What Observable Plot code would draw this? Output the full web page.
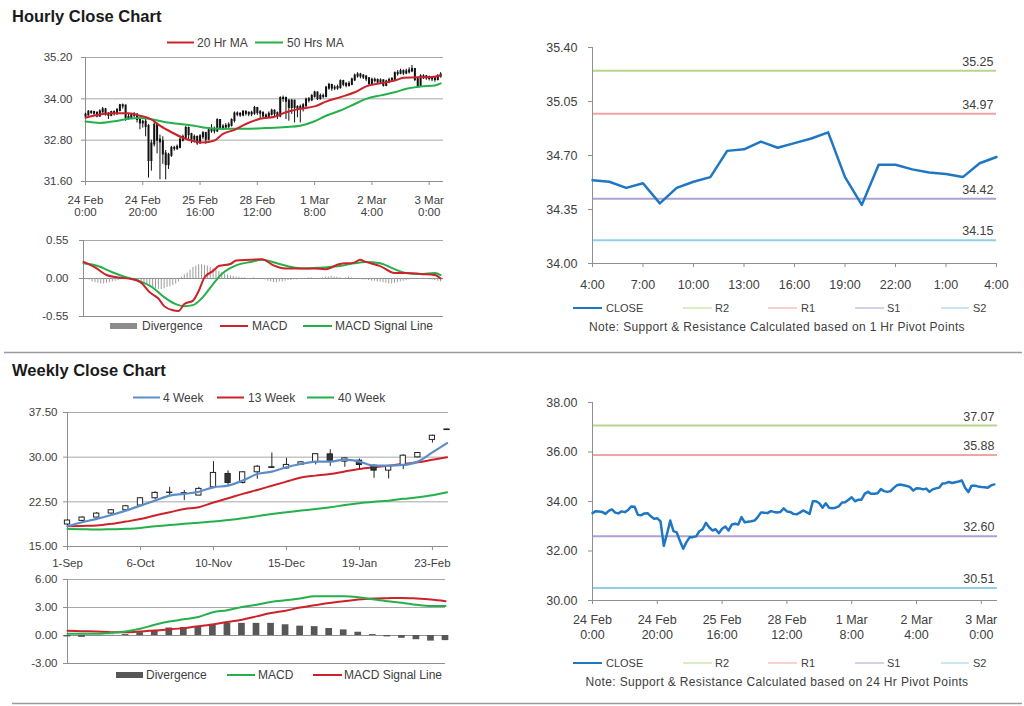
<!DOCTYPE html>
<html><head><meta charset="utf-8">
<script src="https://cdn.jsdelivr.net/npm/d3@7"></script>
<script src="https://cdn.jsdelivr.net/npm/@observablehq/plot@0.6"></script>
<style>
body{margin:0;background:#fff;}
#page{position:relative;width:1024px;height:706px;overflow:hidden;font-family:"Liberation Sans",Arial,sans-serif;}
#page svg{position:absolute;}
</style></head>
<body><div id="page"></div>
<script>
// ================= DATA =================
// hourly candle chart (24 Feb 0:00 .. 3 Mar 4:00), one entry per trading hour
const hourTickIdx = [0, 20, 40, 60, 80, 100, 120];
const hourTickDay = ["24 Feb", "24 Feb", "25 Feb", "28 Feb", "1 Mar", "2 Mar", "3 Mar"];
const hourTickTime = ["0:00", "20:00", "16:00", "12:00", "8:00", "4:00", "0:00"];
const firstOpen = 33.50;
const hourlyClose = [
 33.53,33.61,33.60,33.58,33.50,33.62,33.68,33.55,33.52,33.60,
 33.57,33.66,33.80,33.79,33.46,33.44,33.52,33.53,33.40,33.30,
 33.32,33.20,32.21,32.69,33.23,32.80,32.75,32.40,32.09,32.36,
 32.56,32.56,32.59,32.80,32.88,33.14,32.96,32.83,32.88,32.72,
 32.90,32.99,32.83,33.07,33.10,33.07,33.37,33.16,33.18,33.20,
 33.23,33.37,33.56,33.55,33.53,33.61,33.58,33.56,33.58,33.72,
 33.60,33.58,33.50,33.48,33.55,33.64,33.57,33.50,34.01,34.01,
 33.93,33.75,33.93,33.75,33.73,33.75,33.80,33.96,33.97,34.07,
 34.17,34.01,34.07,34.07,34.31,34.39,34.31,34.31,34.33,34.50,
 34.42,34.39,34.42,34.55,34.66,34.69,34.66,34.63,34.58,34.44,
 34.54,34.53,34.49,34.52,34.39,34.49,34.53,34.56,34.73,34.74,
 34.79,34.75,34.78,34.81,34.85,34.56,34.38,34.64,34.64,34.61,
 34.59,34.58,34.56,34.65,34.69];
const hourlyHigh = [
 33.58,33.66,33.65,33.64,33.62,33.68,33.75,33.72,33.60,33.64,
 33.65,33.72,33.84,33.85,33.82,33.55,33.58,33.60,33.56,33.45,
 33.38,33.40,33.25,32.80,33.40,33.30,32.95,32.90,32.50,32.42,
 32.62,32.62,32.66,32.85,32.95,33.20,33.18,33.00,32.95,32.92,
 32.96,33.05,33.03,33.12,33.25,33.18,33.42,33.40,33.25,33.28,
 33.30,33.42,33.62,33.62,33.60,33.66,33.65,33.62,33.64,33.78,
 33.75,33.66,33.62,33.56,33.62,33.70,33.68,33.62,34.06,34.08,
 34.05,33.98,33.98,33.96,33.80,33.82,33.86,34.02,34.04,34.12,
 34.22,34.20,34.14,34.14,34.36,34.45,34.42,34.38,34.40,34.55,
 34.54,34.47,34.50,34.60,34.72,34.76,34.74,34.70,34.68,34.62,
 34.60,34.60,34.58,34.58,34.56,34.54,34.60,34.62,34.78,34.82,
 34.86,34.84,34.86,34.90,34.97,34.88,34.60,34.70,34.70,34.68,
 34.66,34.64,34.62,34.70,34.76];
const hourlyLow = [
 33.45,33.50,33.55,33.52,33.45,33.46,33.58,33.50,33.40,33.48,
 33.50,33.52,33.62,33.70,33.35,33.38,33.40,33.45,33.30,33.10,
 33.15,32.90,31.70,31.90,32.60,32.40,31.65,32.10,31.65,31.95,
 32.30,32.48,32.50,32.55,32.75,32.85,32.78,32.70,32.72,32.65,
 32.68,32.82,32.68,32.78,33.00,32.98,33.02,33.10,33.08,33.10,
 33.12,33.18,33.30,33.48,33.46,33.48,33.50,33.48,33.48,33.52,
 33.52,33.42,33.42,33.40,33.44,33.50,33.46,33.40,33.45,33.90,
 33.40,33.35,33.55,33.30,33.45,33.30,33.62,33.75,33.88,33.92,
 34.02,33.95,33.96,34.00,34.03,34.25,34.22,34.24,34.25,34.28,
 34.35,34.32,34.34,34.38,34.50,34.60,34.58,34.56,34.50,34.38,
 34.40,34.46,34.42,34.44,34.34,34.35,34.44,34.48,34.52,34.66,
 34.70,34.68,34.70,34.72,34.76,34.50,34.30,34.34,34.56,34.54,
 34.52,34.50,34.48,34.52,34.60];
const ma20Hour  = [0,4,9,15,19,23,26,30,34,38,41,45,48,52,56,61,66,70,75,80,84,89,94,98,103,108,111,116,120,124];
const ma20Value = [33.45,33.53,33.58,33.58,33.51,33.40,33.22,33.03,32.87,32.77,32.73,32.79,32.98,33.10,33.27,33.42,33.48,33.61,33.71,33.78,33.92,34.05,34.19,34.36,34.45,34.53,34.61,34.63,34.63,34.68];
const ma50Hour  = [0,5,10,15,19,24,28,33,38,42,47,52,56,63,70,75,80,84,89,94,98,103,108,112,117,122,124];
const ma50Value = [33.34,33.30,33.35,33.42,33.44,33.39,33.32,33.27,33.22,33.16,33.13,33.13,33.13,33.15,33.18,33.22,33.35,33.51,33.66,33.85,34.00,34.10,34.19,34.29,34.36,34.39,34.45];
// hourly MACD
const macdHour  = [0,4,8,12,17,20,23,26,28,31,33,35,38,40,42,45,47,51,53,58,62,66,70,75,80,84,89,94,96,98,103,108,112,117,122,124];
const macdValue = [0.24,0.16,0.05,0.015,-0.01,-0.06,-0.20,-0.29,-0.40,-0.46,-0.47,-0.37,-0.32,-0.18,0.015,0.11,0.18,0.21,0.26,0.27,0.28,0.19,0.145,0.145,0.145,0.135,0.21,0.23,0.27,0.24,0.18,0.08,0.08,0.065,0.05,0.00];
const signalHour  = [0,5,10,15,19,24,28,32,35,38,41,45,48,53,58,62,68,73,77,83,89,94,98,103,108,112,117,122,124];
const signalValue = [0.22,0.18,0.09,0.015,-0.03,-0.13,-0.27,-0.37,-0.40,-0.385,-0.29,-0.08,0.065,0.19,0.24,0.27,0.21,0.16,0.145,0.16,0.18,0.22,0.24,0.22,0.135,0.08,0.065,0.08,0.05];
const hourlyDivergence = [
 0.00,-0.01,-0.02,-0.05,-0.06,-0.07,-0.08,-0.08,-0.07,-0.06,
 -0.05,-0.04,-0.03,-0.02,-0.02,-0.01,-0.01,-0.02,-0.03,-0.04,
 -0.05,-0.07,-0.10,-0.12,-0.14,-0.15,-0.16,-0.16,-0.15,-0.13,
 -0.12,-0.10,-0.08,-0.05,0.02,0.05,0.08,0.12,0.16,0.18,
 0.20,0.20,0.19,0.18,0.16,0.14,0.12,0.10,0.08,0.06,
 0.05,0.04,0.03,0.02,0.02,0.01,0.01,0.00,0.00,0.01,
 0.00,-0.01,-0.01,-0.02,-0.04,-0.05,-0.06,-0.06,-0.05,-0.05,
 -0.04,-0.03,-0.03,-0.02,-0.02,-0.01,-0.01,0.00,0.01,0.01,
 0.00,-0.01,0.00,0.01,0.02,0.02,0.03,0.02,0.02,0.01,
 0.00,0.01,0.02,0.01,0.00,-0.01,-0.01,-0.02,-0.02,-0.03,
 -0.04,-0.04,-0.05,-0.05,-0.06,-0.07,-0.08,-0.08,-0.07,-0.06,
 -0.05,-0.04,-0.03,-0.02,-0.01,-0.01,0.00,-0.01,-0.01,-0.01,
 -0.02,-0.02,-0.03,-0.04,-0.05];
// pivot charts
const pivotNames = ["R2", "R1", "S1", "S2"];
const pivot1Hr  = [35.25, 34.97, 34.42, 34.15];
const pivot24Hr = [37.07, 35.88, 32.60, 30.51];
const last24Ticks  = [0, 3, 6, 9, 12, 15, 18, 21, 24];
const last24Labels = ["4:00", "7:00", "10:00", "13:00", "16:00", "19:00", "22:00", "1:00", "4:00"];
// weekly chart
const weekTickIdx = [0, 5, 10, 15, 20, 25];
const weekTickLabels = ["1-Sep", "6-Oct", "10-Nov", "15-Dec", "19-Jan", "23-Feb"];
const weekOpen  = [18.69,19.30,19.86,20.53,21.09,21.87,23.10,24.05,23.95,23.55,24.94,27.18,25.67,27.46,28.30,28.10,28.70,29.13,30.47,29.25,29.41,28.57,27.74,28.57,29.97,32.90,34.65];
const weekClose = [19.36,19.86,20.53,21.09,21.76,23.10,24.00,24.00,23.90,24.67,27.35,25.67,27.46,28.40,28.20,28.70,29.13,30.50,29.25,29.80,28.69,27.74,28.46,30.25,30.70,33.60,34.55];
const weekHigh  = [19.50,20.00,20.70,21.20,21.90,23.20,24.20,24.94,24.40,24.95,29.25,27.70,27.60,28.60,30.70,29.80,29.30,30.60,31.25,29.90,29.70,28.70,28.60,30.40,30.80,33.70,34.70];
const weekLow   = [18.50,19.20,19.80,20.40,21.00,21.80,22.90,23.55,22.70,23.50,24.80,25.10,25.50,26.30,28.10,28.00,28.60,28.70,28.46,28.30,28.00,26.45,26.34,27.90,29.90,32.37,34.50];
const ma4Week  = [18.40,19.08,19.64,20.30,21.03,21.87,22.70,23.55,23.83,24.20,24.94,25.22,26.06,27.18,27.57,28.30,28.85,29.25,29.25,29.58,29.25,28.57,28.57,28.69,29.25,30.80,32.37];
const ma13Week = [18.40,18.45,18.52,18.80,19.19,19.60,20.20,20.75,21.30,21.60,22.40,23.10,23.83,24.50,25.20,25.90,26.60,26.90,27.18,27.60,28.00,28.30,28.57,28.85,29.13,29.55,29.97];
const ma40Week = [17.96,17.90,17.85,17.90,17.96,18.10,18.40,18.60,18.80,19.00,19.19,19.45,19.75,20.10,20.47,20.75,21.03,21.30,21.60,21.95,22.26,22.50,22.70,23.00,23.27,23.60,24.10];
const weekMacd   = [0.18,0.18,0.18,0.30,0.43,0.72,1.15,1.50,1.73,1.98,2.50,2.70,3.06,3.30,3.60,3.78,3.96,4.20,4.20,4.20,4.10,3.88,3.67,3.52,3.30,3.17,3.17];
const weekSignal = [0.50,0.46,0.43,0.36,0.36,0.43,0.54,0.65,0.79,1.00,1.19,1.44,1.69,2.05,2.41,2.66,2.99,3.24,3.49,3.67,3.85,3.96,4.00,4.03,3.96,3.85,3.67];
const weekDivergence = [-0.15,-0.20,0.00,0.02,0.10,0.30,0.55,0.80,0.85,0.95,1.20,1.30,1.30,1.30,1.30,1.15,1.00,0.95,0.75,0.60,0.35,0.10,-0.15,-0.30,-0.45,-0.60,-0.55];

// ================= STYLE =================
const FONT = '"Liberation Sans", Arial, sans-serif';
const TXT = "#404040", GRID = "#a8a8a8", AXIS = "#8f8f8f";
const RED = "#cc2229", GREEN = "#25b04b", BLUE = "#1f77c4", LBLUE = "#5b8ec9";
const levelColors = ["#b5d78c", "#f2a3a3", "#b0a0d4", "#8fd0e8"];
const f2 = d => d.toFixed(2);
const page = document.getElementById("page");
function place(svg, left, top) { svg.style.left = left + "px"; svg.style.top = top + "px"; page.appendChild(svg); }
const st = fs => ({fontFamily: FONT, fontSize: fs + "px", color: TXT, background: "transparent", overflow: "visible"});
const lookup = (keys, vals) => { const m = new Map(keys.map((k, i) => [k, vals[i]])); return d => m.get(d); };

// ================= CHART A: hourly candles =================
const hourIdx = d3.range(hourlyClose.length);
const candles = hourIdx.map(i => ({i, o: i ? hourlyClose[i - 1] : firstOpen, c: hourlyClose[i], h: hourlyHigh[i], l: hourlyLow[i]}));
place(Plot.plot({
  width: 460, height: 185, marginLeft: 85, marginRight: 17, marginTop: 17, marginBottom: 44,
  style: st(11.5),
  x: {domain: [0, 125], label: null}, y: {domain: [31.6, 35.2], label: null},
  marks: [
    Plot.ruleY([32.8, 34.0, 35.2], {stroke: GRID}),
    Plot.ruleY([31.6], {stroke: AXIS}),
    Plot.ruleX([0], {stroke: AXIS}),
    Plot.axisY({ticks: [31.6, 32.8, 34.0, 35.2], tickFormat: f2, tickSize: 4, tickPadding: 9, stroke: AXIS, fill: TXT}),
    Plot.axisX({ticks: hourTickIdx, tickFormat: lookup(hourTickIdx, hourTickDay), tickSize: 4, tickPadding: 10, stroke: AXIS, fill: TXT}),
    Plot.axisX({ticks: hourTickIdx, tickFormat: lookup(hourTickIdx, hourTickTime), tickSize: 0, tickPadding: 26, fill: TXT}),
    Plot.ruleX(candles, {x: "i", y1: "l", y2: "h", stroke: "#111", strokeWidth: 1}),
    Plot.ruleX(candles, {x: "i", y1: "o", y2: "c", stroke: "#111", strokeWidth: 2, strokeLinecap: "square"}),
    Plot.line(ma50Hour, {x: ma50Hour, y: ma50Value, stroke: GREEN, strokeWidth: 2, curve: "monotone-x"}),
    Plot.line(ma20Hour, {x: ma20Hour, y: ma20Value, stroke: RED, strokeWidth: 2, curve: "monotone-x"})
  ]
}), 0, 40);

// ================= CHART B: hourly MACD =================
place(Plot.plot({
  width: 460, height: 95, marginLeft: 83, marginRight: 17, marginTop: 10, marginBottom: 9,
  style: st(11.5),
  x: {domain: [0, 125], label: null, axis: null}, y: {domain: [-0.55, 0.55], label: null},
  marks: [
    Plot.ruleY([0.55], {stroke: GRID}),
    Plot.ruleY([-0.55, 0], {stroke: AXIS}),
    Plot.ruleX([0], {stroke: AXIS}),
    Plot.axisY({ticks: [-0.55, 0, 0.55], tickFormat: f2, tickSize: 4, tickPadding: 11, stroke: AXIS, fill: TXT}),
    Plot.ruleX(hourIdx, {x: hourIdx, y1: 0, y2: hourlyDivergence, stroke: "#9c9c9c", strokeWidth: 1}),
    Plot.line(signalHour, {x: signalHour, y: signalValue, stroke: GREEN, strokeWidth: 2, curve: "monotone-x"}),
    Plot.line(macdHour, {x: macdHour, y: macdValue, stroke: RED, strokeWidth: 2, curve: "monotone-x"})
  ]
}), 0, 230);

// ================= CHART C: last 24 hours with 1 Hr pivots =================
const last24 = hourlyClose.slice(-25);
const last24Idx = d3.range(last24.length);
place(Plot.plot({
  width: 504, height: 270, marginLeft: 72, marginRight: 28, marginTop: 17, marginBottom: 37,
  style: st(12.5),
  x: {domain: [0, 24], label: null}, y: {domain: [34.0, 35.4], label: null},
  marks: [
    ...pivotNames.map((n, k) => Plot.ruleY([pivot1Hr[k]], {stroke: levelColors[k], strokeWidth: 2})),
    Plot.text(pivot1Hr, {y: d => d, frameAnchor: "right", text: f2, textAnchor: "end", dx: -3, dy: -9, fill: TXT}),
    Plot.ruleY([34.0], {stroke: AXIS}),
    Plot.ruleX([0], {stroke: AXIS}),
    Plot.axisY({ticks: [34.0, 34.35, 34.7, 35.05, 35.4], tickFormat: f2, tickSize: 4, tickPadding: 11, stroke: AXIS, fill: TXT}),
    Plot.axisX({ticks: last24Ticks, tickFormat: lookup(last24Ticks, last24Labels), tickSize: 4, tickPadding: 13, stroke: AXIS, fill: TXT}),
    Plot.line(last24, {x: last24Idx, y: last24, stroke: BLUE, strokeWidth: 2.5})
  ]
}), 520, 30);

// ================= CHART D: hourly closes with 24 Hr pivots =================
place(Plot.plot({
  width: 504, height: 260, marginLeft: 72, marginRight: 27, marginTop: 17, marginBottom: 45,
  style: st(12.5),
  x: {domain: [0, 125], label: null}, y: {domain: [30, 38], label: null},
  marks: [
    ...pivotNames.map((n, k) => Plot.ruleY([pivot24Hr[k]], {stroke: levelColors[k], strokeWidth: 2})),
    Plot.text(pivot24Hr, {y: d => d, frameAnchor: "right", text: f2, textAnchor: "end", dx: -3, dy: -9, fill: TXT}),
    Plot.ruleY([30], {stroke: AXIS}),
    Plot.ruleX([0], {stroke: AXIS}),
    Plot.axisY({ticks: [30, 32, 34, 36, 38], tickFormat: f2, tickSize: 4, tickPadding: 11, stroke: AXIS, fill: TXT}),
    Plot.axisX({ticks: hourTickIdx, tickFormat: lookup(hourTickIdx, hourTickDay), tickSize: 4, tickPadding: 11, stroke: AXIS, fill: TXT}),
    Plot.axisX({ticks: hourTickIdx, tickFormat: lookup(hourTickIdx, hourTickTime), tickSize: 0, tickPadding: 30, fill: TXT}),
    Plot.line(hourlyClose, {x: hourIdx, y: hourlyClose, stroke: BLUE, strokeWidth: 2.5})
  ]
}), 520, 385);

// ================= CHART E: weekly candles =================
const weekIdx = d3.range(weekClose.length);
const wc = weekIdx.map(k => ({k, o: weekOpen[k], c: weekClose[k], h: weekHigh[k], l: weekLow[k]}));
place(Plot.plot({
  width: 460, height: 175, marginLeft: 67, marginRight: 12, marginTop: 12, marginBottom: 29,
  style: st(11.5),
  x: {domain: [0, 26.1], label: null}, y: {domain: [15, 37.5], label: null},
  marks: [
    Plot.ruleY([22.5, 30, 37.5], {stroke: GRID}),
    Plot.ruleY([15], {stroke: AXIS}),
    Plot.ruleX([0], {stroke: AXIS}),
    Plot.axisY({ticks: [15, 22.5, 30, 37.5], tickFormat: f2, tickSize: 4, tickPadding: 6, stroke: AXIS, fill: TXT}),
    Plot.axisX({ticks: weekTickIdx, tickFormat: lookup(weekTickIdx, weekTickLabels), tickSize: 4, tickPadding: 8, stroke: AXIS, fill: TXT}),
    Plot.line(weekIdx, {x: weekIdx, y: ma40Week, stroke: GREEN, strokeWidth: 2, curve: "monotone-x"}),
    Plot.line(weekIdx, {x: weekIdx, y: ma13Week, stroke: RED, strokeWidth: 2, curve: "monotone-x"}),
    Plot.ruleX(wc, {x: "k", y1: "l", y2: "h", stroke: "#222", strokeWidth: 1}),
    Plot.rect(wc, {x1: d => d.k - 0.18, x2: d => d.k + 0.18, y1: "o", y2: "c", fill: d => d.c >= d.o ? "#fff" : "#333", stroke: "#222", strokeWidth: 1}),
    Plot.line(weekIdx, {x: weekIdx, y: ma4Week, stroke: LBLUE, strokeWidth: 2.2, curve: "monotone-x"})
  ]
}), 0, 400);

// ================= CHART F: weekly MACD =================
place(Plot.plot({
  width: 460, height: 100, marginLeft: 67, marginRight: 15, marginTop: 9, marginBottom: 7,
  style: st(11.5),
  x: {domain: [0, 26], label: null, axis: null}, y: {domain: [-3, 6], label: null},
  marks: [
    Plot.ruleY([3, 6], {stroke: GRID}),
    Plot.ruleY([-3, 0], {stroke: AXIS}),
    Plot.ruleX([0], {stroke: AXIS}),
    Plot.axisY({ticks: [-3, 0, 3, 6], tickFormat: f2, tickSize: 4, tickPadding: 6, stroke: AXIS, fill: TXT}),
    Plot.rect(weekIdx, {x1: k => k - 0.23, x2: k => k + 0.23, y1: 0, y2: weekDivergence, fill: "#575757"}),
    Plot.line(weekIdx, {x: weekIdx, y: weekSignal, stroke: RED, strokeWidth: 2, curve: "monotone-x"}),
    Plot.line(weekIdx, {x: weekIdx, y: weekMacd, stroke: GREEN, strokeWidth: 2, curve: "monotone-x"})
  ]
}), 0, 570);

// ================= TITLES, LEGENDS, NOTES =================
const ov = d3.select(page).append("svg").attr("width", 1024).attr("height", 706)
  .style("left", "0px").style("top", "0px").style("font-family", FONT);
ov.append("line").attr("x1", 4).attr("x2", 1022).attr("y1", 352.5).attr("y2", 352.5).attr("stroke", "#9a9a9a").attr("stroke-width", 1.5);
ov.append("line").attr("x1", 12).attr("x2", 1022).attr("y1", 703.5).attr("y2", 703.5).attr("stroke", "#9a9a9a").attr("stroke-width", 1.5);
function title(t, x, y) { ov.append("text").attr("x", x).attr("y", y).attr("font-size", 16.5).attr("font-weight", "bold").attr("fill", "#1a1a1a").attr("dominant-baseline", "central").text(t); }
title("Hourly Close Chart", 12, 16);
title("Weekly Close Chart", 12, 370);
function legend(items, y, fs) {
  for (const it of items) {
    if (it.bar) ov.append("rect").attr("x", it.x0).attr("y", y - 3).attr("width", it.x1 - it.x0).attr("height", 6).attr("fill", it.color);
    else ov.append("line").attr("x1", it.x0).attr("x2", it.x1).attr("y1", y).attr("y2", y).attr("stroke", it.color).attr("stroke-width", it.w || 2);
    ov.append("text").attr("x", it.tx).attr("y", y).attr("dominant-baseline", "central").attr("font-size", fs).attr("fill", TXT).text(it.label);
  }
}
legend([{x0: 167, x1: 194, color: RED, tx: 197, label: "20 Hr MA"}, {x0: 255, x1: 283, color: GREEN, tx: 287, label: "50 Hrs MA"}], 42.5, 12);
legend([{bar: true, x0: 110, x1: 137, color: "#8c8c8c", tx: 142, label: "Divergence"}, {x0: 220, x1: 248, color: RED, tx: 252, label: "MACD"}, {x0: 303, x1: 332, color: GREEN, tx: 335, label: "MACD Signal Line"}], 326, 12);
legend([{x0: 133, x1: 160, color: LBLUE, tx: 163, label: "4 Week"}, {x0: 217, x1: 244, color: RED, tx: 248, label: "13 Week"}, {x0: 307, x1: 334, color: GREEN, tx: 338, label: "40 Week"}], 397.5, 12);
legend([{bar: true, x0: 116, x1: 143, color: "#575757", tx: 146, label: "Divergence"}, {x0: 227, x1: 255, color: GREEN, tx: 258, label: "MACD"}, {x0: 313, x1: 342, color: RED, tx: 344, label: "MACD Signal Line"}], 675, 12);
function pivotLegend(y) {
  legend([{x0: 573, x1: 602, color: BLUE, tx: 606, label: "CLOSE"},
    ...pivotNames.map((n, k) => ({x0: [683, 768, 855, 941][k], x1: [712, 797, 884, 969][k], color: levelColors[k], w: 1, tx: [715, 801, 887, 973][k], label: n}))], y, 11);
}
pivotLegend(308);
pivotLegend(663);
function note(t, y) { ov.append("text").attr("x", 777).attr("y", y).attr("text-anchor", "middle").attr("dominant-baseline", "central").attr("font-size", 12).attr("letter-spacing", 0.35).attr("fill", TXT).text(t); }
note("Note: Support & Resistance Calculated based on 1 Hr Pivot Points", 327);
note("Note: Support & Resistance Calculated based on 24 Hr Pivot Points", 682);
</script></body></html>
